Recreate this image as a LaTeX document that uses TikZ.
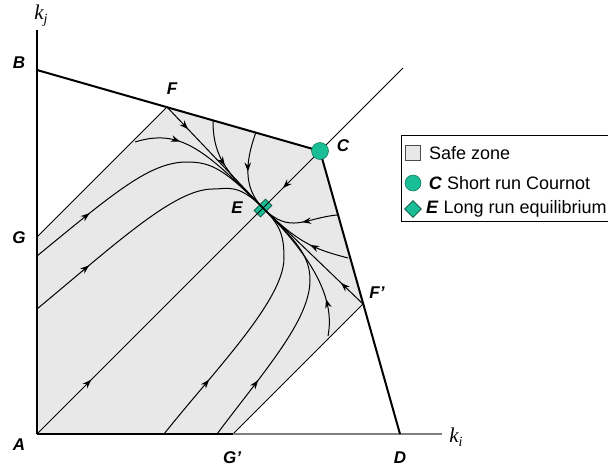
\documentclass[tikz,border=0pt]{standalone}
\usepackage{fontspec}
\setmainfont{Liberation Sans}
\newfontfamily\kfont{Liberation Serif}
\usetikzlibrary{arrows.meta,shapes.geometric,decorations.markings,positioning}
\definecolor{zonagrigia}{RGB}{232,232,232}
\definecolor{verdecournot}{RGB}{26,190,150}
\newcommand{\ptlabel}[1]{{\fontsize{17}{19}\selectfont\bfseries\itshape #1}}
\newcommand{\legtext}[1]{{\fontsize{18}{20}\selectfont #1}}
\newcommand{\axlabel}[2]{{\kfont\itshape\fontsize{21}{22}\selectfont #1\raisebox{-4pt}{\fontsize{14}{14}\selectfont #2}}}

\begin{document}
\begin{tikzpicture}[
    x=1pt, y=-1pt,
    thickline/.style={line width=2pt},
    thinline/.style={line width=1pt},
    flow/.style={line width=1pt, decoration={markings, mark=at position #1 with {\arrow{Stealth[length=9pt,width=6.5pt]}}}, postaction={decorate}},
    lbl/.style={inner sep=0pt},
    cournot/.style={circle, fill=verdecournot, draw=verdecournot!60!black, line width=0.5pt, minimum size=17pt, inner sep=0pt},
    equil/.style={diamond, fill=verdecournot, draw=verdecournot!40!black, line width=0.7pt, minimum size=17pt, inner sep=0pt}
]
\useasboundingbox (0,0) rectangle (608,471);

% Punti principali
\coordinate (A) at (37,434);
\coordinate (B) at (37,70);
\coordinate (G) at (37,237);
\coordinate (F) at (167,107);
\coordinate (C) at (320,151);
\coordinate (Fp) at (363,304);
\coordinate (Gp) at (233,434);
\coordinate (D) at (400,434);
\coordinate (E) at (263,208);
\coordinate (ytop) at (37,30);
\coordinate (xend) at (442,434);
\coordinate (diagend) at (403,68);

% Zona sicura
\fill[zonagrigia] (A) -- (G) -- (F) -- (C) -- (Fp) -- (Gp) -- cycle;
\draw[thinline] (G) -- (F);
\draw[thinline] (Fp) -- (Gp);

% Assi
\draw[line width=1.5pt, gray] (Gp) -- (xend);
\draw[thickline] (A) -- (Gp);
\draw[line width=1.5pt] (A) -- (ytop);
\node[lbl] (kj) at (41,16) {\axlabel{k}{j}};
\node[lbl] (ki) at (456,437) {\axlabel{k}{i}};

% Rette di reazione
\draw[thickline] (B) -- (C) -- (D);
\draw[thinline] (C) -- (diagend);

% Equilibrio di lungo periodo
\node[rectangle, fill=verdecournot, draw=verdecournot!40!black, line width=0.7pt, minimum width=16pt, minimum height=9pt, inner sep=0pt, rotate=45] (Em) at (E) {};

% Traiettorie
\draw[flow=0.24] (A) -- (E);
\draw[flow=0.65] (C) -- (E);
\draw[flow=0.22] (F) -- (E);
\draw[flow=0.22] (Fp) -- (E);
\draw[flow=0.3] (135,142) .. controls (180,128) and (205,150) .. (E);
\draw[flow=0.25] (37,256) .. controls (115,192) and (150,162) .. (187,162) .. controls (212,162) and (225,170) .. (E);
\draw[flow=0.25] (37,309) .. controls (120,240) and (175,189) .. (213,189) .. controls (228,189) and (238,183) .. (E);
\draw[flow=0.45] (213,121) .. controls (213,160) and (230,175) .. (E);
\draw[flow=0.5] (256,132) .. controls (246,160) and (242,187) .. (E);
\draw[flow=0.45] (337,215) .. controls (305,218) and (290,235) .. (E);
\draw[flow=0.4] (348,258) .. controls (318,250) and (300,245) .. (E);
\draw[flow=0.25] (328,336) .. controls (335,300) and (315,260) .. (E);
\draw[flow=0.25] (217,434) .. controls (265,370) and (310,320) .. (310,280) .. controls (310,255) and (295,240) .. (E);
\draw[flow=0.26] (164,434) .. controls (215,370) and (284,300) .. (284,258) .. controls (284,235) and (280,225) .. (E);

% Equilibrio di Cournot
\node[cournot] (Cm) at (C) {};

% Etichette
\node[lbl] (lB) at (19,63) {\ptlabel{B}};
\node[lbl] (lF) at (172,89) {\ptlabel{F}};
\node[lbl] (lC) at (343,146) {\ptlabel{C}};
\node[lbl] (lG) at (19,238) {\ptlabel{G}};
\node[lbl] (lE) at (237,208) {\ptlabel{E}};
\node[lbl] (lFp) at (377,293) {\ptlabel{F'}};
\node[lbl] (lA) at (19,445) {\ptlabel{A}};
\node[lbl] (lGp) at (232,458) {\ptlabel{G'}};
\node[lbl] (lD) at (400,458) {\ptlabel{D}};

% Legenda
\draw[line width=0.8pt] (401,135) rectangle (620,221);
\node[draw=black!70, fill=zonagrigia, line width=0.6pt, minimum size=15pt, inner sep=0pt] (legsafe) at (413,153) {};
\node[lbl, right=8pt of legsafe] (legsafetxt) {\legtext{Safe zone}};
\node[cournot, minimum size=16pt] (legc) at (413,183) {};
\node[lbl, right=7.5pt of legc] (legctxt) {\legtext{\textbf{\textit{C}} Short run Cournot}};
\node[equil] (lege) at (413,209) {};
\node[lbl, right=4pt of lege] (legetxt) {\legtext{\textbf{\textit{E}} Long run equilibrium}};

\end{tikzpicture}
\end{document}
